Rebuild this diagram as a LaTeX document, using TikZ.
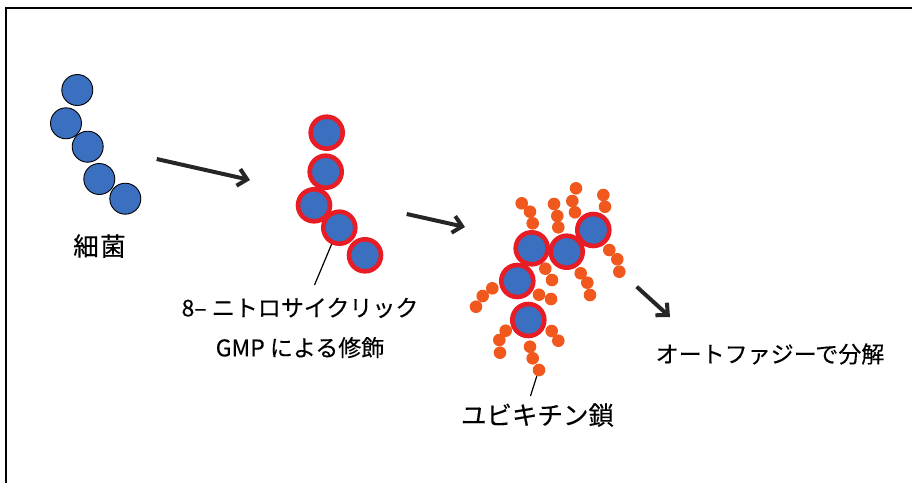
\documentclass[tikz,border=0pt]{standalone}
\usepackage{fontspec}
\setmainfont{Noto Sans CJK JP}[FakeBold=0.3]
\usetikzlibrary{arrows.meta}
\definecolor{cellblue}{RGB}{59,111,192}
\definecolor{tagred}{RGB}{232,28,36}
\definecolor{ubqorange}{RGB}{240,88,30}
\definecolor{arrowgray}{RGB}{38,38,38}
\tikzset{
  bact/.style={circle, inner sep=0pt, minimum size=31pt, fill=cellblue, draw=black, line width=0.9pt},
  tagged/.style={circle, inner sep=0pt, minimum size=32pt, fill=cellblue, draw=tagred, line width=4.6pt},
  ubq/.style={circle, inner sep=0pt, minimum size=12.6pt, fill=ubqorange},
  caption/.style={font=\fontsize{23}{40}\selectfont, inner sep=0pt, align=center},
  bigcaption/.style={caption, font=\fontsize{25.5}{40}\selectfont},
  flow/.style={draw=arrowgray, line width=4pt, -{Straight Barb[length=9pt, width=17pt]}},
  leader/.style={draw=black, line width=1.2pt}
}
\begin{document}
\begin{tikzpicture}[x=1pt, y=-1pt]
\useasboundingbox (0,0) rectangle (912,483);
% frame
\draw[line width=1.6pt] (6,483) -- (6,8) -- (912,8);

% bacterium
\node[bact] (b1) at (77.3,90) {};
\node[bact] (b2) at (66,123.3) {};
\node[bact] (b3) at (87.7,146.7) {};
\node[bact] (b4) at (99.3,179) {};
\node[bact] (b5) at (125.3,198.7) {};
\node[bigcaption] (lbact) at (99.5,246) {細\hspace{1.5pt}菌};

% modified bacterium
\node[tagged] (m1) at (326.7,132.7) {};
\node[tagged] (m2) at (325.7,171.7) {};
\node[tagged] (m3) at (314,205.3) {};
\node[tagged] (m4) at (339.3,227.7) {};
\node[tagged] (m5) at (365,255.3) {};
\node[caption] (lmod) at (300,328) {8– ニトロサイクリック\\GMP による修飾};
\coordinate (lmodtop) at (314.5,285);
\draw[leader] (m4.-115) -- (lmodtop);

% ubiquitin chains
\foreach \i/\x/\y in {
  1/521.7/203.3, 2/530/211.7, 3/532.7/223.3,
  4/554/204, 5/557.3/216, 6/558.3/227.3,
  7/576/188.3, 8/572.3/201, 9/575/212.3,
  10/603.3/195, 11/605/206.7,
  12/609.3/250, 13/617.3/259.3, 14/619.3/271.7,
  15/580.7/273.3, 16/587.3/282.7, 17/590/295,
  18/545.3/268.7, 19/552/280,
  20/539/294.7, 21/551/299,
  22/492.3/288.3, 23/482.7/296, 24/476/306.7,
  25/505.7/330.7, 26/499.3/340, 27/500/352.7,
  28/530/346.7, 29/532.7/358.3, 30/539/370,
  31/551.7/331, 32/558.3/340.7}
  \node[ubq] (u\i) at (\x,\y) {};

% tagged bacteria inside the cluster
\node[tagged] (cA) at (531.7,248.3) {};
\node[tagged] (cB) at (566.7,251.7) {};
\node[tagged] (cC) at (593.3,230) {};
\node[tagged] (cD) at (517.3,281) {};
\node[tagged] (cE) at (528.3,320) {};

\node[bigcaption] (lubq) at (537.5,415) {ユビキチン鎖};
\coordinate (lubqtop) at (530.5,396);
\draw[leader] (u30.-110) -- (lubqtop);

\node[caption] (lauto) at (770,354) {オートファジーで分解};

% process arrows
\coordinate (f1s) at (156.7,159);
\coordinate (f1e) at (250,180);
\coordinate (f2s) at (406.7,214);
\coordinate (f2e) at (465,227);
\coordinate (f3s) at (636.7,286.7);
\coordinate (f3e) at (670,317);
\draw[flow] (f1s) -- (f1e);
\draw[flow] (f2s) -- (f2e);
\draw[flow] (f3s) -- (f3e);
\end{tikzpicture}
\end{document}
